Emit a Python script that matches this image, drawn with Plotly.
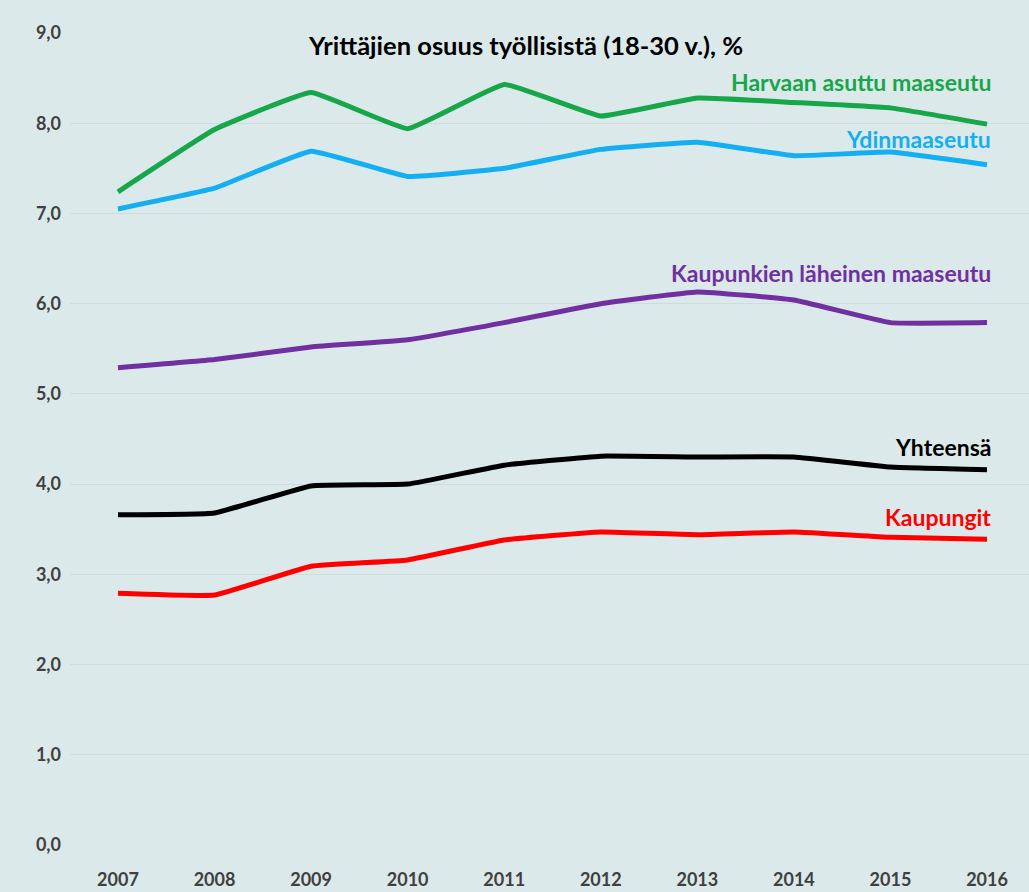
import plotly.graph_objects as go

years = [2007, 2008, 2009, 2010, 2011, 2012, 2013, 2014, 2015, 2016]
harvaan = [7.24, 7.93, 8.34, 7.94, 8.43, 8.08, 8.28, 8.23, 8.17, 7.99]
ydin = [7.05, 7.28, 7.69, 7.41, 7.50, 7.71, 7.79, 7.64, 7.68, 7.54]
lahei = [5.29, 5.38, 5.52, 5.60, 5.79, 6.00, 6.13, 6.04, 5.79, 5.79]
yhteensa = [3.66, 3.68, 3.98, 4.00, 4.21, 4.31, 4.30, 4.30, 4.19, 4.16]
kaupungit = [2.79, 2.77, 3.09, 3.16, 3.38, 3.47, 3.44, 3.47, 3.41, 3.39]
yticks = [0, 1, 2, 3, 4, 5, 6, 7, 8, 9]

series = [
    ("Harvaan asuttu maaseutu", harvaan, "#17a64a"),
    ("Ydinmaaseutu", ydin, "#13aff0"),
    ("Kaupunkien läheinen maaseutu", lahei, "#7030a0"),
    ("Yhteensä", yhteensa, "#000000"),
    ("Kaupungit", kaupungit, "#ff0000"),
]
label_y = [8.46, 7.83, 6.34, 4.41, 3.63]

FONT = "Lato, 'Open Sans', sans-serif"

fig = go.Figure()
for (name, vals, col) in series:
    fig.add_trace(go.Scatter(x=years, y=vals, mode="lines", name=name,
                             line=dict(color=col, width=5, shape="spline", smoothing=0.3)))

for (name, vals, col), ly in zip(series, label_y):
    fig.add_annotation(x=years[-1], y=ly, xref="x", yref="y", text="<b>%s</b>" % name,
                       showarrow=False, xanchor="right", yanchor="middle", xshift=6,
                       font=dict(family=FONT, size=23, color=col))

fig.add_annotation(x=0.5, y=0.985, xref="paper", yref="paper",
                   text="<b>Yrittäjien osuus työllisistä (18-30 v.), %</b>",
                   showarrow=False, xanchor="center", yanchor="middle", xshift=-24,
                   font=dict(family=FONT, size=25.5, color="#000000"))

fig.update_layout(
    width=1029, height=892,
    margin=dict(l=70, r=0, t=33, b=47),
    paper_bgcolor="#dce9ea", plot_bgcolor="#dce9ea",
    showlegend=False, separators=", ",
    font=dict(family=FONT, size=17, color="#404040"),
)
fig.update_xaxes(range=[2006.503, 2016.435], tickvals=years, ticktext=[f"<b>{y}</b>" for y in years],
                 showgrid=False, zeroline=False, showline=False, ticks="",
                 ticklabelstandoff=22, tickfont=dict(size=18, color="#404040"))
fig.update_yaxes(range=[0, 9], tickvals=yticks,
                 ticktext=[f"<b>{v:.1f}</b>".replace(".", ",") for v in yticks],
                 showgrid=True, gridcolor="#cedcdd", gridwidth=1, zeroline=False,
                 showline=False, ticks="", ticklabelstandoff=8,
                 tickfont=dict(size=18, color="#404040"))

fig.write_html("out.html", config={"displayModeBar": False},
               post_script="document.body.style.margin='0';document.body.style.background='#dce9ea';")
